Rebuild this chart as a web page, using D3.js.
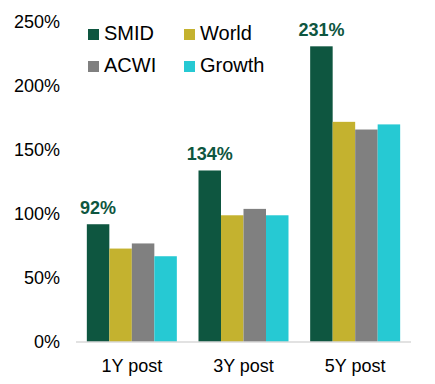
<!DOCTYPE html>
<html>
<head>
<meta charset="utf-8">
<script src="https://cdn.jsdelivr.net/npm/d3@7.9.0/dist/d3.min.js"></script>
<style>
  body { margin: 0; background: #fff; }
  svg { display: block; font-family: "Liberation Sans", Arial, sans-serif; }
</style>
</head>
<body>
<svg id="chart"></svg>
<script>
// chart data
const periods = ["1Y post", "3Y post", "5Y post"];
const seriesNames = ["SMID", "World", "ACWI", "Growth"];
const smid = [92, 134, 231];
const world = [73, 99, 172];
const acwi = [77, 104, 166];
const growth = [67, 99, 170];
const yTicks = [0, 50, 100, 150, 200, 250];

const colors = ["#0e5640", "#c4b22f", "#808080", "#26c9d3"];
const seriesValues = [smid, world, acwi, growth];

const W = 435, H = 384;
const margin = { top: 22, right: 24, bottom: 42, left: 76 };
const width = W - margin.left - margin.right;
const height = H - margin.top - margin.bottom;

const svg = d3.select("#chart").attr("width", W).attr("height", H);
const g = svg.append("g").attr("transform", `translate(${margin.left},${margin.top})`);

const x0 = d3.scaleBand().domain(periods).range([0, width]).paddingInner(0.194).paddingOuter(0.097);
const x1 = d3.scaleBand().domain(seriesNames).range([0, x0.bandwidth()]);
const y = d3.scaleLinear().domain([0, 250]).range([height, 0]);

// y axis labels
g.selectAll(".ytick")
  .data(yTicks)
  .join("text")
  .attr("x", -16)
  .attr("y", d => y(d))
  .attr("dy", "0.36em")
  .attr("text-anchor", "end")
  .attr("font-size", 18)
  .attr("fill", "#000")
  .text(d => d + "%");

// bars
const groups = g.selectAll(".grp")
  .data(periods)
  .join("g")
  .attr("transform", d => `translate(${x0(d)},0)`);

groups.selectAll("rect")
  .data((p, i) => seriesNames.map((s, j) => ({ s, v: seriesValues[j][i], c: colors[j] })))
  .join("rect")
  .attr("x", d => x1(d.s))
  .attr("y", d => y(d.v))
  .attr("width", x1.bandwidth())
  .attr("height", d => height - y(d.v))
  .attr("fill", d => d.c);

// SMID value labels
groups.append("text")
  .attr("x", x1("SMID") + x1.bandwidth() / 2)
  .attr("y", (p, i) => y(smid[i]) - 10)
  .attr("text-anchor", "middle")
  .attr("font-size", 18)
  .attr("font-weight", "bold")
  .attr("fill", colors[0])
  .text((p, i) => smid[i] + "%");

// baseline
g.append("line")
  .attr("x1", 0).attr("x2", width)
  .attr("y1", height).attr("y2", height)
  .attr("stroke", "#d9d9d9")
  .attr("stroke-width", 1.5);

// x labels
g.selectAll(".xlab")
  .data(periods)
  .join("text")
  .attr("x", d => x0(d) + x0.bandwidth() / 2)
  .attr("y", height + 30)
  .attr("text-anchor", "middle")
  .attr("font-size", 18)
  .attr("fill", "#000")
  .text(d => d);

// legend
const legend = svg.append("g").attr("transform", "translate(88,29)");
seriesNames.forEach((s, i) => {
  const lx = (i % 2) * 96, ly = Math.floor(i / 2) * 32;
  legend.append("rect")
    .attr("x", lx).attr("y", ly)
    .attr("width", 11).attr("height", 11)
    .attr("fill", colors[i]);
  legend.append("text")
    .attr("x", lx + 16).attr("y", ly + 10.5)
    .attr("font-size", 20)
    .attr("fill", "#000")
    .text(s);
});
</script>
</body>
</html>
